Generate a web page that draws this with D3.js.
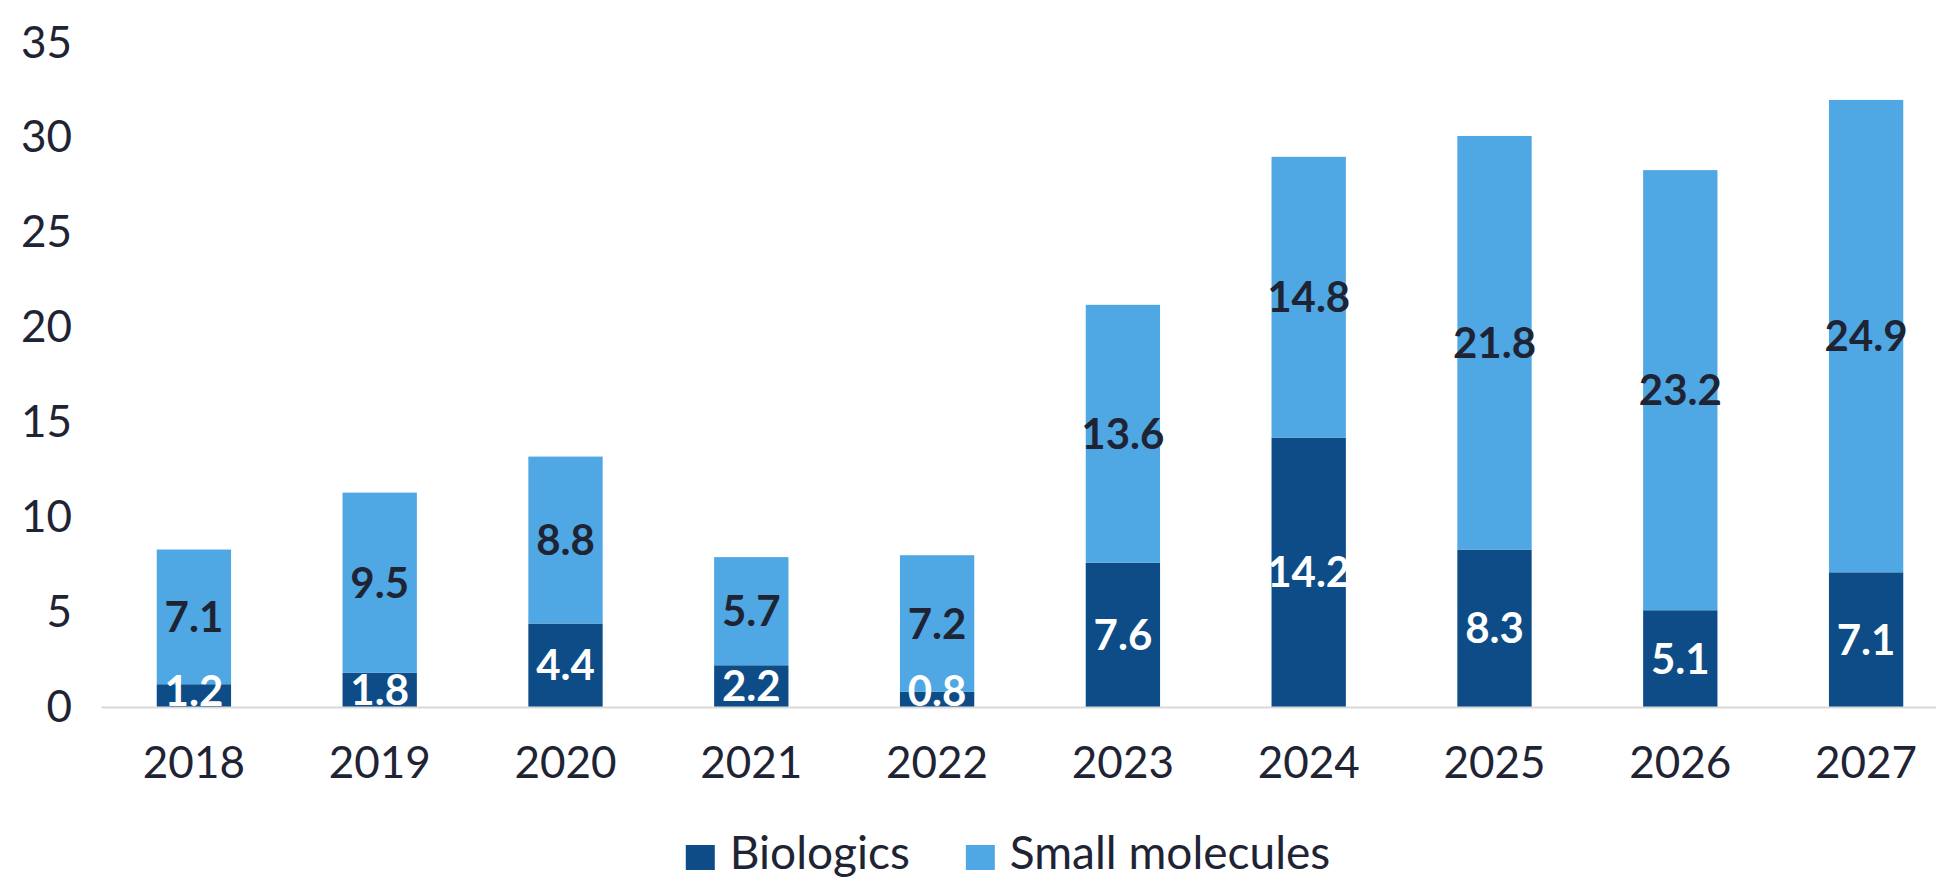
<!DOCTYPE html>
<html>
<head>
<meta charset="utf-8">
<script src="https://cdn.jsdelivr.net/npm/d3@7"></script>
<style>
  body { margin: 0; background: #fff; }
  svg { display: block; font-family: Lato, "Open Sans", sans-serif; }
</style>
</head>
<body>
<div id="chart"></div>
<script>
// data
var years = ["2018", "2019", "2020", "2021", "2022", "2023", "2024", "2025", "2026", "2027"]
var biologics = [1.2, 1.8, 4.4, 2.2, 0.8, 7.6, 14.2, 8.3, 5.1, 7.1]
var smallMolecules = [7.1, 9.5, 8.8, 5.7, 7.2, 13.6, 14.8, 21.8, 23.2, 24.9]
var seriesNames = ["Biologics", "Small molecules"]
var yTicks = [0, 5, 10, 15, 20, 25, 30, 35]

var width = 1936,
  height = 881;

var colors = ["#0d4c87", "#4fa7e3"]
var textDark = "#1f2434"

var svg = d3.select("#chart")
  .append("svg")
  .attr("width", width)
  .attr("height", height);

// scales
var x = d3.scaleBand()
  .domain(years)
  .range([101, 1959])
  .paddingInner(0.6)
  .paddingOuter(0.3);

var y = d3.scaleLinear()
  .domain([0, 35])
  .range([707, 43]);

// build stack rows
var rows = years.map(function(yr, i) {
  return { year: yr, "Biologics": biologics[i], "Small molecules": smallMolecules[i] }
})
var stacked = d3.stack().keys(seriesNames)(rows)

// y axis (labels only)
var yAxis = svg.append("g")
  .attr("transform", "translate(101,0)")
  .call(d3.axisLeft(y).tickValues(yTicks).tickSize(0).tickPadding(29))
yAxis.select(".domain").remove()
yAxis.selectAll("text")
  .attr("font-family", "Lato, sans-serif")
  .attr("font-size", 44)
  .attr("fill", textDark)

// bars
var layers = svg.append("g")
  .selectAll("g")
  .data(stacked)
  .enter()
  .append("g")
  .attr("fill", function(d, i) { return colors[i] })

layers.selectAll("rect")
  .data(function(d) { return d })
  .enter()
  .append("rect")
  .attr("x", function(d) { return x(d.data.year) })
  .attr("width", x.bandwidth())
  .attr("y", function(d) { return y(d[1]) })
  .attr("height", function(d) { return y(d[0]) - y(d[1]) });

// x axis
var xAxis = svg.append("g")
  .attr("transform", "translate(0," + y(0) + ")")
  .call(d3.axisBottom(x).tickSize(0).tickPadding(40))
xAxis.select(".domain")
  .attr("stroke", "#d9d9d9")
  .attr("stroke-width", 2)
xAxis.selectAll("text")
  .attr("font-family", "Lato, sans-serif")
  .attr("font-size", 44)
  .attr("fill", textDark)

// value labels, centred in each segment (drawn after all bars)
// small segments: keep the label's bottom on the baseline
var labels = svg.append("g")
stacked.forEach(function(layer, li) {
  labels.append("g")
    .selectAll("text")
    .data(layer)
    .enter()
    .append("text")
    .attr("x", function(d) { return x(d.data.year) + x.bandwidth() / 2 })
    .attr("y", function(d) { return Math.min((y(d[0]) + y(d[1])) / 2, y(0) - 16) })
    .attr("dy", "0.36em")
    .attr("text-anchor", "middle")
    .attr("font-size", 42)
    .attr("font-weight", "bold")
    .attr("fill", li == 0 ? "#ffffff" : textDark)
    .text(function(d) { return d3.format(".1f")(d[1] - d[0]) })
})

// legend
var legend = svg.append("g")
var lx = 0
seriesNames.forEach(function(name, i) {
  var item = legend.append("g").attr("transform", "translate(" + lx + ",0)")
  item.append("rect")
    .attr("x", 0).attr("y", -24)
    .attr("width", 29).attr("height", 25)
    .attr("fill", colors[i])
  var t = item.append("text")
    .attr("x", 44).attr("y", 0)
    .attr("font-size", 46)
    .attr("fill", textDark)
    .text(name)
  lx += 44 + t.node().getComputedTextLength() + 56
})
var legendW = lx - 56
legend.attr("transform", "translate(" + (1008 - legendW / 2) + ",869)")
</script>
</body>
</html>
